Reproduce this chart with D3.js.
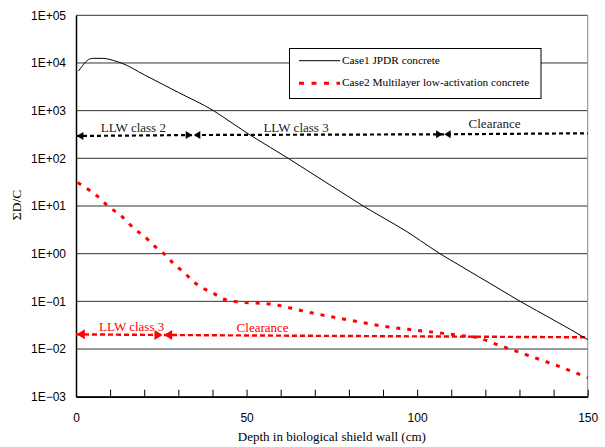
<!DOCTYPE html>
<meta charset="utf-8">
<html>
  <head>
    <script src="https://cdn.jsdelivr.net/npm/d3@7"></script>
    <style>
      body {
        margin: 0;
        background: white;
      }
    </style>
  </head>
  <body>
    <div id="chart"></div>
    <script>
      // Case1: JPDR concrete (depth cm, sum D/C)
      const depth1 = [0.7, 1.7, 2.6, 4, 5, 8, 10, 12, 13.5, 20, 30, 40.3, 46, 51.5, 57, 62.2, 68, 74.5, 80, 84.2, 90, 97, 101, 106.7, 112, 118, 124, 130.2, 135, 140, 145, 150];
      const case1 = [6800, 8350, 10100, 12100, 12500, 12500, 11800, 10700, 9850, 5650, 2410, 1000, 535, 294, 169, 100, 54.5, 27.5, 15.5, 10, 5.7, 2.9, 1.87, 1, 0.594, 0.33, 0.184, 0.1, 0.0643, 0.0406, 0.0256, 0.0158];

      // Case2: multilayer low-activation concrete
      const depth2 = [0.5, 4.1, 7, 9, 11, 12.9, 17.3, 20.7, 23.2, 25.9, 29, 31.9, 34.4, 37.3, 40.3, 43.2, 47.1, 53.9, 57.2, 63.2, 66.6, 77.4, 80.6, 91.1, 97.4, 107.7, 111.6, 118.4, 122.3, 126.2, 133.1, 139.9, 150];
      const case2 = [31, 20.9, 14.5, 10.5, 8.2, 6.5, 3.24, 2.1, 1.4, 0.98, 0.58, 0.39, 0.26, 0.188, 0.147, 0.112, 0.098, 0.091, 0.088, 0.0714, 0.0627, 0.044, 0.04, 0.0294, 0.0259, 0.0213, 0.0196, 0.0168, 0.0132, 0.0106, 0.0071, 0.0048, 0.0025];

      // classification limit lines (boundaries in depth, level at each boundary)
      const limit1X = [0, 34.3, 107.7, 150];
      const limit1Y = [294, 308, 319, 335];
      const limit2X = [0, 25.6, 150];
      const limit2Y = [0.0203, 0.0197, 0.0176];

      const labels1 = ["LLW class 2", "LLW class 3", "Clearance"];
      const labels1X = [16.8, 64.5, 122.7];
      const labels1Y = [352, 362, 427];
      const labels2 = ["LLW class 3", "Clearance"];
      const labels2X = [16.3, 54.7];
      const labels2Y = [0.0242, 0.0231];

      const yTicks = [1e-3, 1e-2, 1e-1, 1e0, 1e1, 1e2, 1e3, 1e4, 1e5];
      const xTicks = d3.range(0, 151, 10);
      const xLabelTicks = [0, 50, 100, 150];

      const legendNames = ["Case1 JPDR concrete", "Case2 Multilayer low-activation concrete"];

      const SERIF = "'Liberation Serif', 'Times New Roman', 'DejaVu Serif', serif";
      const SANS = "'Liberation Sans', Arial, sans-serif";

      const width = 605, height = 447;
      const margin = {top: 15.3, right: 17.3, bottom: 50.3, left: 76};

      const svg = d3.select("#chart").append("svg")
        .attr("width", width)
        .attr("height", height);

      const x = d3.scaleLinear().domain([0, 150]).range([margin.left, width - margin.right]);
      const y = d3.scaleLog().domain([1e-3, 1e5]).range([height - margin.bottom, margin.top]);

      const fmt = (d) => {
        const e = Math.round(Math.log10(d));
        return "1E" + (e < 0 ? "\u2212" : "+") + String(Math.abs(e)).padStart(2, "0");
      };

      // gridlines
      svg.append("g").selectAll("line")
        .data(yTicks)
        .join("line")
        .attr("x1", x(0)).attr("x2", x(150))
        .attr("y1", (d) => y(d)).attr("y2", (d) => y(d))
        .attr("stroke", "#333")
        .attr("stroke-width", 1);

      // right frame
      svg.append("line")
        .attr("x1", x(150)).attr("x2", x(150))
        .attr("y1", y(1e5)).attr("y2", y(1e-3))
        .attr("stroke", "#888");

      // y axis
      const yAxis = svg.append("g")
        .attr("transform", `translate(${x(0)},0)`)
        .call(d3.axisLeft(y).tickValues(yTicks).tickFormat(fmt).tickSize(0).tickPadding(10));
      yAxis.select(".domain").attr("stroke", "#000").attr("stroke-width", 1.5);
      yAxis.selectAll("text").style("font-family", SANS).style("font-size", "12px").attr("fill", "#000");

      // x axis
      const xAxis = svg.append("g")
        .attr("transform", `translate(0,${y(1e-3)})`)
        .call(d3.axisBottom(x).tickValues(xTicks)
          .tickFormat((d) => xLabelTicks.includes(d) ? d : "")
          .tickSizeInner(-7).tickSizeOuter(0).tickPadding(17));
      xAxis.select(".domain").attr("stroke", "#000").attr("stroke-width", 1.5);
      xAxis.selectAll(".tick line").attr("stroke", "#000");
      xAxis.selectAll("text").style("font-family", SANS).style("font-size", "12px").attr("fill", "#000");

      // axis titles
      svg.append("text")
        .attr("x", (x(0) + x(150)) / 2)
        .attr("y", 440.5)
        .attr("text-anchor", "middle")
        .style("font-family", SERIF)
        .style("font-size", "13px")
        .text("Depth in biological shield wall (cm)");

      svg.append("text")
        .attr("transform", "translate(21,205) rotate(-90)")
        .attr("text-anchor", "middle")
        .style("font-family", SERIF)
        .style("font-size", "13.5px")
        .text("\u03A3D/C");

      const curve = d3.line()
        .x((d) => x(d[0]))
        .y((d) => y(d[1]))
        .curve(d3.curveMonotoneX);

      // limit lines with arrow heads
      function drawLimit(xs, ys, color, dash, sw, alen, ahalf) {
        const pts = xs.map((d, i) => [d, ys[i]]);
        svg.append("path")
          .attr("d", d3.line().x((d) => x(d[0])).y((d) => y(d[1]))(pts))
          .attr("fill", "none")
          .attr("stroke", color)
          .attr("stroke-width", sw)
          .attr("stroke-dasharray", dash);
        const heads = [];
        pts.forEach((p, i) => {
          if (i < pts.length - 1) heads.push({p: p, dir: -1});
          if (i > 0 && i < pts.length - 1) heads.push({p: p, dir: 1});
        });
        svg.append("g").selectAll("path")
          .data(heads)
          .join("path")
          .attr("d", (h) => {
            const tx = x(h.p[0]) + (h.dir < 0 ? 0.8 : -0.8), ty = y(h.p[1]);
            const bx = tx - h.dir * alen;
            return `M${tx},${ty}L${bx},${ty - ahalf}L${bx},${ty + ahalf}Z`;
          })
          .attr("fill", color);
      }

      function drawLabels(texts, xs, ys, color) {
        svg.append("g").selectAll("text")
          .data(texts)
          .join("text")
          .attr("x", (d, i) => x(xs[i]))
          .attr("y", (d, i) => y(ys[i]))
          .attr("text-anchor", "middle")
          .style("font-family", SERIF)
          .style("font-size", "13px")
          .attr("fill", color)
          .text((d) => d);
      }

      drawLimit(limit1X, limit1Y, "#000", "4,3", 2.2, 6.5, 4);
      drawLimit(limit2X, limit2Y, "#f00", "5,3", 2.4, 8, 5);
      drawLabels(labels1, labels1X, labels1Y, "#222");
      drawLabels(labels2, labels2X, labels2Y, "#f00");

      // data series
      svg.append("path")
        .attr("d", curve(depth1.map((d, i) => [d, case1[i]])))
        .attr("fill", "none")
        .attr("stroke", "#000")
        .attr("stroke-width", 1);

      svg.append("path")
        .attr("d", curve(depth2.map((d, i) => [d, case2[i]])))
        .attr("fill", "none")
        .attr("stroke", "#f00")
        .attr("stroke-width", 3)
        .attr("stroke-dasharray", "4,7");

      // legend
      const legend = svg.append("g");
      legend.append("rect")
        .attr("x", 289.5).attr("y", 48.5)
        .attr("width", 251.5).attr("height", 50)
        .attr("fill", "white")
        .attr("stroke", "#000");
      legendNames.forEach((name, i) => {
        const ly = 60.7 + i * 22.6;
        legend.append("line")
          .attr("x1", 299).attr("x2", 340)
          .attr("y1", ly).attr("y2", ly)
          .attr("stroke", i === 0 ? "#000" : "#f00")
          .attr("stroke-width", i === 0 ? 1 : 3)
          .attr("stroke-dasharray", i === 0 ? null : "5,7.5");
        legend.append("text")
          .attr("x", 342)
          .attr("y", ly + 3)
          .style("font-family", SERIF)
          .style("font-size", "11.3px")
          .attr("fill", "#000")
          .text(name);
      });
    </script>
  </body>
</html>
